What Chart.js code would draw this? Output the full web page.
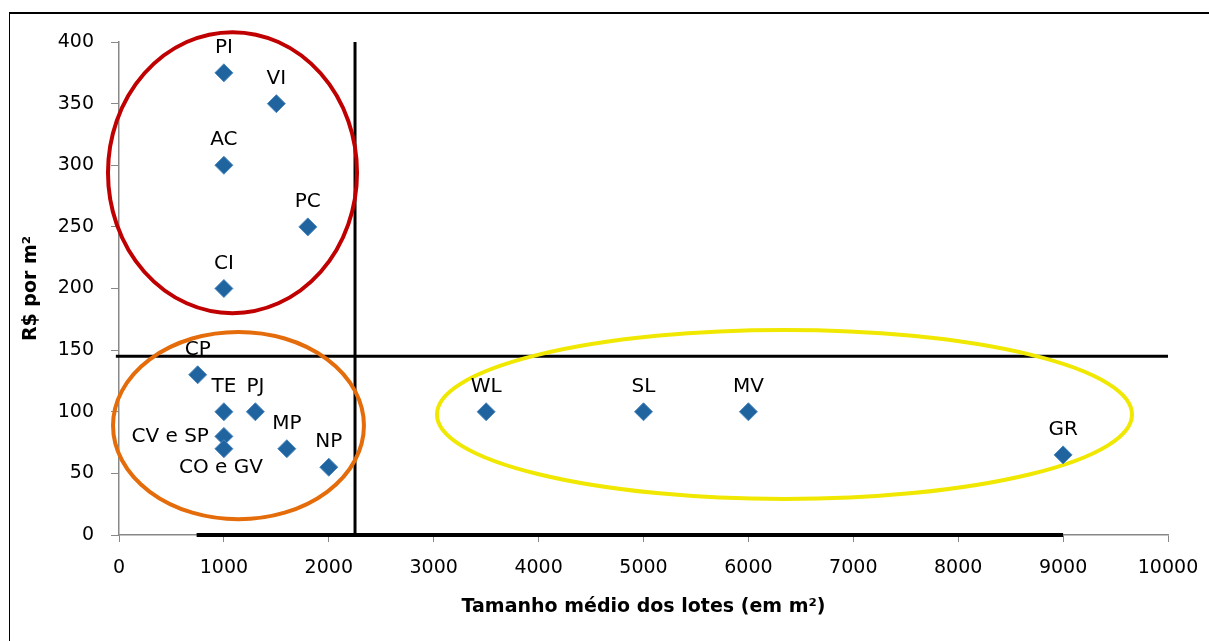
<!DOCTYPE html>
<html>
<head>
<meta charset="utf-8">
<script src="https://cdn.jsdelivr.net/npm/chart.js@4.4.0/dist/chart.umd.min.js"></script>
<style>
  html, body { margin: 0; padding: 0; background: #fff; }
  #wrap { position: relative; width: 1209px; height: 641px; }
  #frame { position: absolute; left: 9px; top: 12px; right: -5px; bottom: -5px; border-left: 1.5px solid #000; border-top: 2.5px solid #000; pointer-events: none; }
  canvas { position: absolute; left: 0; top: 0; }
</style>
</head>
<body>
<div id="wrap">
  <canvas id="c" width="1209" height="641"></canvas>
  <div id="frame"></div>
</div>
<script>
// ---- data ----
const siteLabels = ["PI", "VI", "AC", "PC", "CI", "CP", "TE", "PJ", "CV e SP", "CO e GV", "MP", "NP", "WL", "SL", "MV", "GR"];
const lotSize   = [1000, 1500, 1000, 1800, 1000, 750, 1000, 1300, 1000, 1000, 1600, 2000, 3500, 5000, 6000, 9000];
const pricePerM2 = [375, 350, 300, 250, 200, 130, 100, 100, 80, 70, 70, 55, 100, 100, 100, 65];
const labelSide = ["top", "top", "top", "top", "top", "top", "top", "top", "left", "bottom", "top", "top", "top", "top", "top", "top"];

const xTicks = [0, 1000, 2000, 3000, 4000, 5000, 6000, 7000, 8000, 9000, 10000];
const yTicks = [0, 50, 100, 150, 200, 250, 300, 350, 400];

// divider lines (data units)
const verticalDividerX = [2250, 2250];
const verticalDividerY = [0, 400];
const horizontalDividerX = [-30, 10000];
const horizontalDividerY = [145, 145];
const baseLineX = [740, 9000];
const baseLineY = [0, 0];

// cluster ellipses (data units: center x, center y, radius x, radius y)
const ellipseCenterX = [1082, 1139, 6344];
const ellipseCenterY = [294, 88.8, 97.8];
const ellipseRadiusX = [1187, 1196, 3313];
const ellipseRadiusY = [114, 76, 68.6];
const ellipseColors = ["#C00000", "#E46C0A", "#F0E800"];

const FONT = "'DejaVu Sans', 'Open Sans', sans-serif";

const points = lotSize.map((x, i) => ({ x: x, y: pricePerM2[i] }));
const toPts = (xs, ys) => xs.map((x, i) => ({ x: x, y: ys[i] }));

const ellipsePlugin = {
  id: 'ellipses',
  afterDatasetDraw(chart, args) {
    if (args.index !== 1) return;
    const xs = chart.scales.x, ys = chart.scales.y;
    const ctx = chart.ctx;
    ctx.save();
    for (let i = 0; i < ellipseCenterX.length; i++) {
      const cx = xs.getPixelForValue(ellipseCenterX[i]);
      const cy = ys.getPixelForValue(ellipseCenterY[i]);
      const rx = Math.abs(xs.getPixelForValue(ellipseCenterX[i] + ellipseRadiusX[i]) - cx);
      const ry = Math.abs(ys.getPixelForValue(ellipseCenterY[i] + ellipseRadiusY[i]) - cy);
      ctx.beginPath();
      ctx.ellipse(cx, cy, rx, ry, 0, 0, Math.PI * 2);
      ctx.lineWidth = 4;
      ctx.strokeStyle = ellipseColors[i];
      ctx.stroke();
    }
    ctx.restore();
  }
};

const labelPlugin = {
  id: 'pointLabels',
  afterDatasetsDraw(chart) {
    const meta = chart.getDatasetMeta(0);
    const ctx = chart.ctx;
    ctx.save();
    ctx.font = "20px " + FONT;
    ctx.fillStyle = "#000";
    meta.data.forEach((el, i) => {
      const side = labelSide[i];
      let x = el.x, y = el.y;
      if (side === "top") { ctx.textAlign = "center"; ctx.textBaseline = "middle"; y -= 25; }
      else if (side === "bottom") { ctx.textAlign = "center"; ctx.textBaseline = "middle"; y += 19; x -= 3; }
      else { ctx.textAlign = "right"; ctx.textBaseline = "middle"; x -= 15; }
      ctx.fillText(siteLabels[i], x, y);
    });
    ctx.restore();
  }
};

new Chart(document.getElementById('c'), {
  type: 'scatter',
  data: {
    datasets: [
      {
        label: 'Loteamentos',
        data: points,
        pointStyle: 'rectRot',
        pointRadius: 9,
        pointHoverRadius: 9,
        backgroundColor: '#1F649E',
        borderColor: '#4A86BF',
        borderWidth: 1,
        order: 0
      },
      {
        type: 'line',
        data: toPts(verticalDividerX, verticalDividerY),
        borderColor: '#000', borderWidth: 3, pointRadius: 0, showLine: true, clip: false, order: 1
      },
      {
        type: 'line',
        data: toPts(horizontalDividerX, horizontalDividerY),
        borderColor: '#000', borderWidth: 3, pointRadius: 0, showLine: true, clip: false, order: 2
      },
      {
        type: 'line',
        data: toPts(baseLineX, baseLineY),
        borderColor: '#000', borderWidth: 4, pointRadius: 0, showLine: true, clip: false, order: 3
      }
    ]
  },
  options: {
    responsive: false,
    animation: false,
    events: [],
    layout: { padding: { left: 0, top: 42, right: 41, bottom: 0 } },
    plugins: { legend: { display: false }, tooltip: { enabled: false } },
    scales: {
      x: {
        type: 'linear', min: 0, max: 10000,
        afterBuildTicks: s => { s.ticks = xTicks.map(v => ({ value: v })); },
        afterFit: s => { s.height = 106; s.paddingRight = 10; s.paddingLeft = 10; },
        grid: { drawOnChartArea: false, color: '#888', tickLength: 7 },
        border: { color: '#888', width: 1.5 },
        ticks: { color: '#000', font: { family: FONT, size: 19 }, padding: 15, maxRotation: 0, callback: v => String(v) },
        title: { display: true, text: 'Tamanho médio dos lotes (em m²)', color: '#000', font: { family: FONT, size: 19, weight: 'bold' }, padding: { top: 0, bottom: 23 } }
      },
      y: {
        type: 'linear', min: 0, max: 400,
        afterBuildTicks: s => { s.ticks = yTicks.map(v => ({ value: v })); },
        afterFit: s => { s.width = 119; },
        grid: { drawOnChartArea: false, color: '#888', tickLength: 8 },
        border: { color: '#888', width: 1.5 },
        ticks: { color: '#000', font: { family: FONT, size: 19 }, padding: 17, callback: v => String(v) },
        title: { display: true, text: 'R$ por m²', color: '#000', font: { family: FONT, size: 19, weight: 'bold' }, padding: { top: 20, bottom: 0 } }
      }
    }
  },
  plugins: [ellipsePlugin, labelPlugin]
});
</script>
</body>
</html>
